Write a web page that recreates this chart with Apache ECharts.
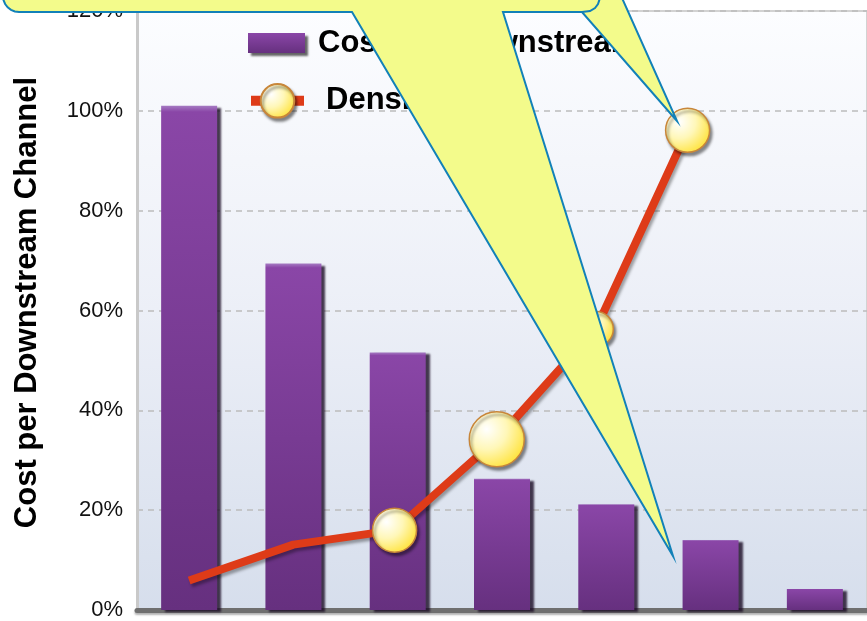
<!DOCTYPE html>
<html><head><meta charset="utf-8">
<script src="https://cdn.jsdelivr.net/npm/echarts@6/dist/echarts.min.js"></script>
<style>html,body{margin:0;padding:0;background:#fff}#c{width:867px;height:621px}</style>
</head><body><div id="c"></div>
<script>
// ---- data ----
const categories = ['1', '2', '3', '4', '5', '6', '7'];
const costValues = [101.0, 69.4, 51.6, 26.3, 21.2, 14.0, 4.2];
const densityX = [0, 1, 1.97, 2.95, 3.9, 4.78];
const densityValues = [5.9, 13.1, 16.0, 34.2, 56.3, 96.1];
const yTicks = [0, 20, 40, 60, 80, 100, 120];
const seriesNames = ['Cost per Downstream', 'Density'];
const axisTitle = 'Cost per Downstream Channel';

// ---- styles ----
const markerSizes = [0, 0, 44, 55, 35, 44];
const FONT = 'Liberation Sans, Arial, sans-serif';
const markerFill = {
  type: 'radial', x: 0.32, y: 0.32, r: 0.8,
  colorStops: [{offset: 0, color: '#ffffff'}, {offset: 0.45, color: '#fff7b8'}, {offset: 1, color: '#ffe02a'}]
};
const barFill = {
  type: 'linear', x: 0, y: 0, x2: 0, y2: 1,
  colorStops: [{offset: 0, color: '#a57ac2'}, {offset: 0.012, color: '#8a46a7'}, {offset: 1, color: '#66307f'}]
};

const chart = echarts.init(document.getElementById('c'), null, {renderer: 'canvas'});

function cornerPts() {
  const pts = [];
  for (let i = 0; i <= 6; i++) {
    const t = Math.PI - i * (Math.PI / 2) / 6;
    pts.push([19 + 16 * Math.cos(t), -4 + 16 * Math.sin(t)]);
  }
  return pts;
}
const calloutPts = [[3, -40]].concat(cornerPts(), [[352, 12], [673, 556], [503, 12], [582, 12], [677, 121], [622, -2], [622, -40]]);

chart.setOption({
  animation: false,
  grid: {
    left: 137, width: 732, top: 10.3, bottom: 8.3,
    show: true, borderWidth: 2, borderColor: '#d2d2d2',
    backgroundColor: {
      type: 'linear', x: 0, y: 0, x2: 0, y2: 1,
      colorStops: [{offset: 0, color: '#fcfdff'}, {offset: 0.5, color: '#eceff7'}, {offset: 1, color: '#d6deec'}]
    }
  },
  legend: [
    {
      data: [seriesNames[0]], left: 243, top: 22, orient: 'vertical',
      itemWidth: 57, itemHeight: 20, icon: 'rect',
      itemStyle: {shadowColor: 'rgba(0,0,0,0.6)', shadowOffsetX: 3, shadowOffsetY: 3, shadowBlur: 2},
      textStyle: {fontFamily: FONT, fontSize: 31, fontWeight: 'bold', color: '#000', lineHeight: 32, padding: [0, 0, 0, 8]}
    },
    {
      data: [seriesNames[1]], left: 241, top: 78, orient: 'vertical',
      itemWidth: 53, itemHeight: 42,
      lineStyle: {width: 10},
      itemStyle: {shadowColor: 'rgba(0,0,0,0.45)', shadowOffsetX: 2, shadowOffsetY: 3, shadowBlur: 3},
      textStyle: {fontFamily: FONT, fontSize: 31, fontWeight: 'bold', color: '#000', lineHeight: 32, padding: [0, 0, 0, 17]}
    }
  ],
  xAxis: [
    {
      type: 'category', data: categories, gridIndex: 0, offset: 3,
      axisLine: {show: true, lineStyle: {color: '#6f6f6f', width: 5, shadowColor: 'rgba(0,0,0,0.3)', shadowOffsetY: 2, shadowBlur: 2}},
      axisTick: {show: false}, axisLabel: {show: false}, splitLine: {show: false}
    },
    {
      type: 'value', gridIndex: 0, min: -0.5, max: categories.length - 0.5, show: false
    }
  ],
  yAxis: {
    type: 'value', min: yTicks[0], max: yTicks[yTicks.length - 1], interval: yTicks[1] - yTicks[0],
    name: axisTitle, nameLocation: 'middle', nameRotate: 90, nameGap: 94,
    nameTextStyle: {fontFamily: FONT, fontSize: 31, fontWeight: 'bold', color: '#000', padding: [0, 0, 0, 16]},
    axisLine: {show: true, onZero: false, lineStyle: {color: '#c9c9c9', width: 3}},
    axisTick: {show: false},
    axisLabel: {formatter: '{value}%', fontFamily: FONT, fontSize: 22, color: '#111', margin: 14},
    splitLine: {show: true, lineStyle: {color: '#bcbcbc', type: [6, 5], width: 1.5}}
  },
  series: [
    {
      name: seriesNames[0], type: 'bar', xAxisIndex: 0, data: costValues, barWidth: 56,
      itemStyle: {color: barFill, shadowColor: 'rgba(25,10,35,0.8)', shadowOffsetX: 4, shadowOffsetY: 2, shadowBlur: 2},
      z: 2
    },
    {
      name: seriesNames[1], type: 'line', xAxisIndex: 1,
      data: densityX.map((x, i) => [x, densityValues[i]]),
      symbol: 'circle', showSymbol: true, showAllSymbol: true,
      symbolSize: (v, p) => markerSizes[p.dataIndex],
      lineStyle: {color: '#de3b18', width: 8, shadowColor: 'rgba(0,0,0,0.35)', shadowOffsetX: 2, shadowOffsetY: 3, shadowBlur: 3},
      itemStyle: {color: markerFill, borderColor: '#c8863a', borderWidth: 1.5, shadowColor: 'rgba(0,0,0,0.45)', shadowOffsetX: 2, shadowOffsetY: 3, shadowBlur: 3},
      z: 5
    }
  ],
  graphic: [
    {type: 'polygon', z: 100, silent: true, shape: {points: calloutPts},
     style: {fill: '#f3fb8b', stroke: '#1281b8', lineWidth: 2}},
    {type: 'polyline', z: 101, silent: true, shape: {points: [[582, 12], [590, 11], [595, 8], [598, 4], [600, -2]]},
     style: {fill: null, stroke: '#1281b8', lineWidth: 2}}
  ]
});
</script></body></html>
